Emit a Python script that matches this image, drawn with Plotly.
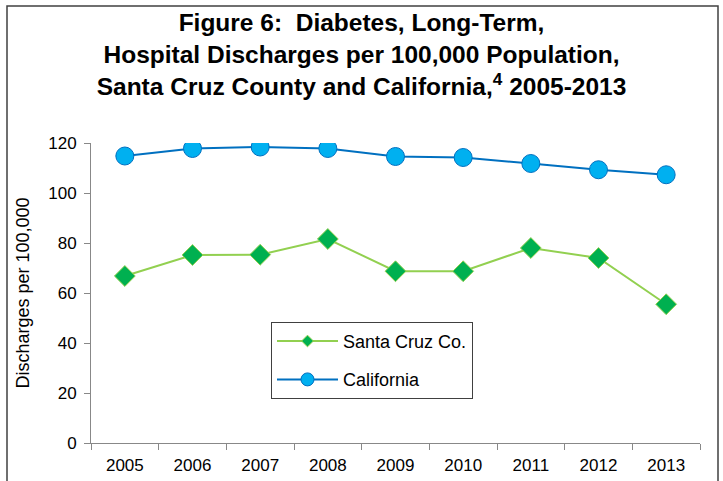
import plotly.graph_objects as go

# ── Data ──────────────────────────────────────────────────────────────────────
YEARS = ["2005", "2006", "2007", "2008", "2009", "2010", "2011", "2012", "2013"]
SANTA_CRUZ = [66.8, 75.2, 75.3, 81.6, 68.7, 68.7, 78.0, 74.0, 55.5]
CALIFORNIA = [114.8, 117.8, 118.4, 117.8, 114.6, 114.2, 111.8, 109.3, 107.3]

FONT = "Liberation Sans, Arial, sans-serif"

SC_LINE, SC_FILL = "#92D050", "#00B050"
CA_LINE, CA_FILL = "#0070C0", "#00B0F0"

fig = go.Figure()

# data series (legend handled by the small-marker entries below)
fig.add_trace(go.Scatter(
    x=YEARS, y=SANTA_CRUZ,
    name="Santa Cruz Co.", showlegend=False,
    mode="lines+markers",
    line=dict(color=SC_LINE, width=2),
    marker=dict(symbol="diamond", size=16, color=SC_FILL,
                line=dict(color=SC_LINE, width=1)),
))
fig.add_trace(go.Scatter(
    x=YEARS, y=CALIFORNIA,
    name="California", showlegend=False,
    mode="lines+markers",
    line=dict(color=CA_LINE, width=2),
    marker=dict(symbol="circle", size=18, color=CA_FILL,
                line=dict(color=CA_LINE, width=1)),
))

# legend entries with the smaller symbols used in the reference legend
fig.add_trace(go.Scatter(
    x=[None], y=[None], name="Santa Cruz Co.", legendgroup="sc",
    mode="lines+markers",
    line=dict(color=SC_LINE, width=2),
    marker=dict(symbol="diamond", size=9, color=SC_FILL,
                line=dict(color=SC_LINE, width=1)),
))
fig.add_trace(go.Scatter(
    x=[None], y=[None], name="California", legendgroup="ca",
    mode="lines+markers",
    line=dict(color=CA_LINE, width=2),
    marker=dict(symbol="circle", size=13, color=CA_FILL,
                line=dict(color=CA_LINE, width=1)),
))

# outer frame around the whole chart (plot area spans 609 x 300 px)
fig.add_shape(
    type="rect", xref="paper", yref="paper",
    x0=-84 / 609, x1=1 + 18 / 609, y0=-0.3, y1=1 + 137 / 300,
    line=dict(color="#404040", width=1.5),
    fillcolor="rgba(0,0,0,0)",
    layer="below",
)

fig.update_layout(
    width=723, height=481,
    title=dict(
        text="<b>Figure 6:  Diabetes, Long-Term,<br>"
             "Hospital Discharges per 100,000 Population,<br>"
             "Santa Cruz County and California,<sup>4</sup> 2005-2013</b>",
        x=0.5, xanchor="center",
        y=0.935, yanchor="top",
        font=dict(family=FONT, size=24.5, color="#000000"),
    ),
    xaxis=dict(
        type="category",
        range=[-0.5, 8.5],
        automargin=False,
        tickson="boundaries",
        ticks="outside", ticklen=6, tickcolor="#888888",
        ticklabelstandoff=7,
        showline=True, linecolor="#888888", linewidth=1,
        showgrid=False, zeroline=False,
        tickfont=dict(family=FONT, size=17, color="#000000"),
    ),
    yaxis=dict(
        range=[0, 120],
        dtick=20,
        automargin=False,
        ticks="outside", ticklen=6, tickcolor="#888888",
        ticklabelstandoff=4,
        showline=True, linecolor="#888888", linewidth=1,
        showgrid=False, zeroline=False,
        tickfont=dict(family=FONT, size=17, color="#000000"),
        title=dict(text="Discharges per 100,000",
                   font=dict(family=FONT, size=18, color="#000000"),
                   standoff=13),
    ),
    legend=dict(
        x=180 / 609, y=0.404, xanchor="left", yanchor="top",
        bordercolor="#404040", borderwidth=1,
        bgcolor="white",
        font=dict(family=FONT, size=18, color="#000000"),
        traceorder="grouped",
        tracegroupgap=12,
        itemwidth=61,
    ),
    plot_bgcolor="white",
    paper_bgcolor="white",
    margin=dict(l=91, r=23, t=143, b=38),
)

fig.write_html("out.html", config={"displayModeBar": False},
               post_script="document.body.style.margin='0';")
